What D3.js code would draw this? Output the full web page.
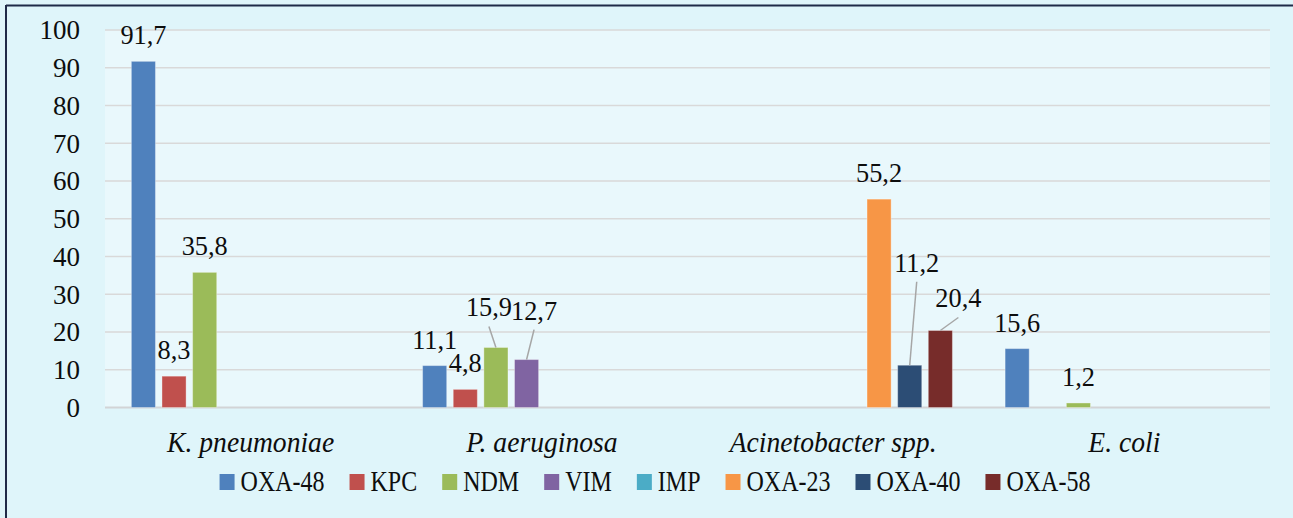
<!DOCTYPE html>
<html>
<head>
<meta charset="utf-8">
<script src="https://cdn.jsdelivr.net/npm/d3@7"></script>
<style>
  html, body { margin: 0; padding: 0; background: #dff5fa; }
  svg { display: block; }
  text { font-family: 'Liberation Serif', 'Times New Roman', serif; fill: #0d0d0d; }
</style>
</head>
<body>
<div id="chart"></div>
<script>
// categories / series
var categories = ['K. pneumoniae', 'P. aeruginosa', 'Acinetobacter spp.', 'E. coli'];
var series = ['OXA-48', 'KPC', 'NDM', 'VIM', 'IMP', 'OXA-23', 'OXA-40', 'OXA-58'];

// values per series, one per category (null = no bar)
var oxa48 = [91.7, 11.1, null, 15.6];
var kpc = [8.3, 4.8, null, null];
var ndm = [35.8, 15.9, null, 1.2];
var vim = [null, 12.7, null, null];
var imp = [null, null, null, null];
var oxa23 = [null, null, 55.2, null];
var oxa40 = [null, null, 11.2, null];
var oxa58 = [null, null, 20.4, null];

var yTicks = [0, 10, 20, 30, 40, 50, 60, 70, 80, 90, 100];

var colors = ['#4f81bd', '#c0504d', '#9bbb59', '#8064a2', '#4bacc6', '#f79646', '#2c4d75', '#772c2a'];

// label nudges (px) for labels moved off their bar, with leader line
var labelMove = {
  'P. aeruginosa|NDM': [-7, -14],
  'P. aeruginosa|VIM': [7.5, -23],
  'Acinetobacter spp.|OXA-40': [7, -76.5],
  'Acinetobacter spp.|OXA-58': [18, -6]
};

var values = [oxa48, kpc, ndm, vim, imp, oxa23, oxa40, oxa58];

var W = 1293, H = 518;
var pLeft = 105, pRight = 1270, pTop = 30, pBottom = 407.5;

var svg = d3.select('#chart').append('svg').attr('width', W).attr('height', H);

// background + frame
svg.append('rect').attr('x', 0).attr('y', 0).attr('width', W).attr('height', H).attr('fill', '#dff5fa');
svg.append('line').attr('x1', 6).attr('y1', 5.5).attr('x2', W).attr('y2', 5.5)
  .attr('stroke', '#1f2a48').attr('stroke-width', 2);
svg.append('line').attr('x1', 6).attr('y1', 5).attr('x2', 6).attr('y2', H)
  .attr('stroke', '#1f2a48').attr('stroke-width', 2);

// plot area
svg.append('rect').attr('x', pLeft).attr('y', pTop).attr('width', pRight - pLeft).attr('height', pBottom - pTop)
  .attr('fill', '#e9f8fc');

// scales
var x0 = d3.scaleBand().domain(categories).range([pLeft, pRight]);
var x1 = d3.scaleBand().domain(series).range([0, x0.bandwidth()]).paddingInner(0.213).paddingOuter(0.86);
var y = d3.scaleLinear().domain([0, 100]).range([pBottom, pTop]);

// grid
svg.append('g').selectAll('line').data(yTicks).join('line')
  .attr('x1', pLeft).attr('x2', pRight)
  .attr('y1', function (d) { return y(d); }).attr('y2', function (d) { return y(d); })
  .attr('stroke', function (d) { return d === 0 ? '#d2d4d6' : '#d9d9d9'; })
  .attr('stroke-width', function (d) { return d === 0 ? 2 : 1.5; });

// y axis labels
var yAxis = d3.axisLeft(y).tickValues(yTicks).tickSize(0).tickPadding(0);
var ga = svg.append('g').attr('transform', 'translate(80,0)').call(yAxis);
ga.select('.domain').remove();
ga.selectAll('text').attr('font-size', 27).attr('font-family', 'Liberation Serif').attr('fill', '#0d0d0d')
  .attr('dy', '0.33em');

// bars
var bars = [];
categories.forEach(function (c, ci) {
  series.forEach(function (s, si) {
    var v = values[si][ci];
    if (v !== null && v !== undefined) bars.push({ cat: c, ser: s, si: si, value: v });
  });
});

var gb = svg.append('g');
gb.selectAll('rect').data(bars).join('rect')
  .attr('x', function (d) { return x0(d.cat) + x1(d.ser); })
  .attr('y', function (d) { return y(d.value); })
  .attr('width', x1.bandwidth())
  .attr('height', function (d) { return y(0) - y(d.value); })
  .attr('fill', function (d) { return colors[d.si]; })
  .attr('stroke', 'rgba(255,255,255,0.35)')
  .attr('stroke-width', 1);

// data labels
var gl = svg.append('g');
bars.forEach(function (d) {
  var cx = x0(d.cat) + x1(d.ser) + x1.bandwidth() / 2;
  var ty = y(d.value);
  var mv = labelMove[d.cat + '|' + d.ser] || [0, 0];
  var lx = cx + mv[0];
  var ly = ty - 17 + mv[1];
  if (labelMove[d.cat + '|' + d.ser]) {
    gl.append('line')
      .attr('x1', lx).attr('y1', ly + 10)
      .attr('x2', cx).attr('y2', ty)
      .attr('stroke', '#a6a6a6').attr('stroke-width', 1.5);
  }
  gl.append('text')
    .attr('transform', 'translate(' + lx + ',' + ly + ') scale(0.94,1)')
    .attr('text-anchor', 'middle')
    .attr('font-size', 28)
    .text(String(d.value).replace('.', ','));
});

// category labels
svg.append('g').selectAll('text').data(categories).join('text')
  .attr('transform', function (d) {
    return 'translate(' + (x0(d) + x0.bandwidth() / 2) + ',452) scale(0.92,1)';
  })
  .attr('text-anchor', 'middle')
  .attr('font-size', 30)
  .attr('font-style', 'italic')
  .text(function (d) { return d; });

// legend
var sx = 0.8;
var lg = svg.append('g');
var items = lg.selectAll('g').data(series).join('g');
items.append('rect').attr('x', 0).attr('y', 474).attr('width', 15).attr('height', 16)
  .attr('fill', function (d, i) { return colors[i]; });
items.append('text')
  .attr('transform', 'translate(21,491) scale(' + sx + ',1)')
  .attr('font-size', 30)
  .text(function (d) { return d; });

var pos = 0, offsets = [];
items.each(function () {
  var t = d3.select(this).select('text').node();
  var w = 21 + t.getComputedTextLength() * sx;
  offsets.push(pos);
  pos += w + 25;
});
var total = pos - 25;
var lx0 = 655 - total / 2;
items.attr('transform', function (d, i) { return 'translate(' + (lx0 + offsets[i]) + ',0)'; });
</script>
</body>
</html>
